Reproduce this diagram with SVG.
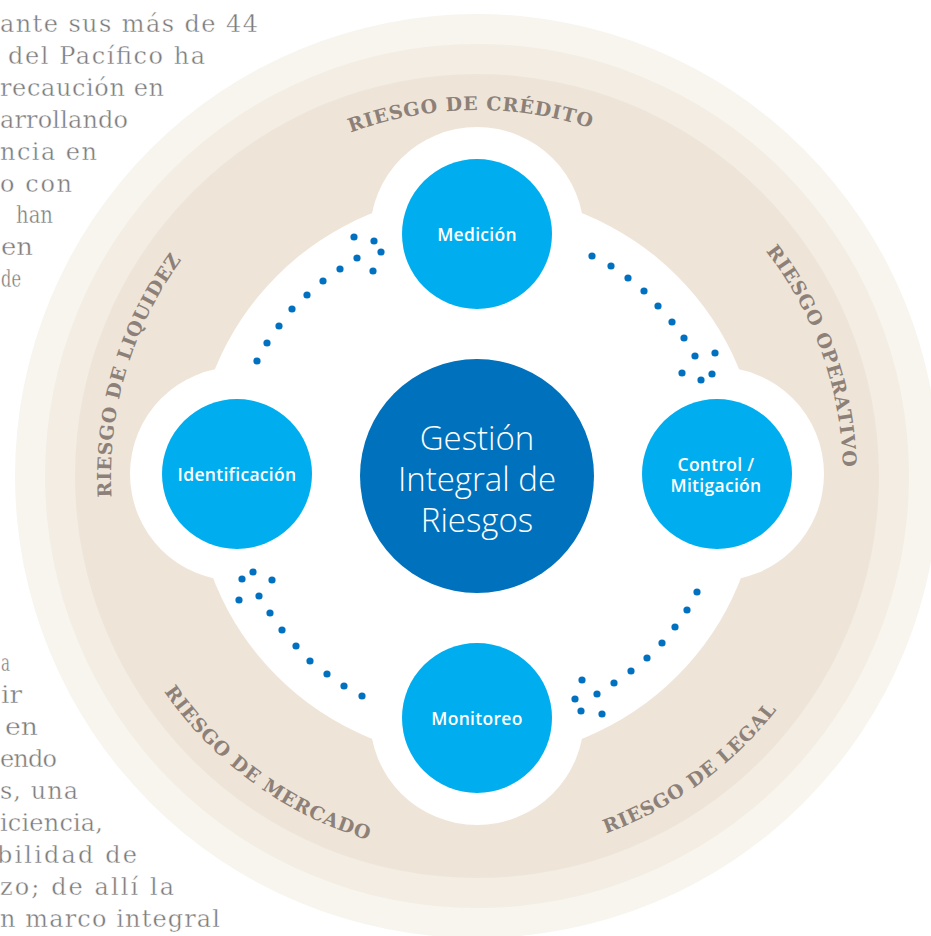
<svg xmlns="http://www.w3.org/2000/svg" width="931" height="936" viewBox="0 0 931 936">
<defs>
<style>
.para{font-family:"DejaVu Serif",serif;font-size:24px;fill:#7a7a7a;stroke:#fff;stroke-width:0.4px}
.risk{font-family:"DejaVu Serif",serif;font-weight:bold;font-size:19px;letter-spacing:0.8px;fill:#8c8078}
.node{fill:#00aeef}
.nlabel{font-family:"Open Sans","Noto Sans",sans-serif;font-weight:600;font-size:17.5px;letter-spacing:0.3px;fill:#fff;text-anchor:middle}
.clabel{font-family:"Open Sans","Noto Sans",sans-serif;font-weight:300;font-size:33px;fill:#fff;text-anchor:middle}
.dot{fill:#0070c0}
</style>
<path id="pCredito" d="M156.9,298.6 A366,366 0 0 1 790.7,287.5"/>
<path id="pOperativo" d="M543.1,116 A366,366 0 0 1 755.7,713.2"/>
<path id="pLiquidez" d="M211.5,728 A366,366 0 0 1 391.6,120.1"/>
<path id="pMercado" d="M99.1,436.3 A380,380 0 0 0 631.5,823.1"/>
<path id="pLegal" d="M322.5,823.1 A380,380 0 0 0 854.9,436.3"/>
</defs>
<rect width="931" height="936" fill="#fff"/>
<g id="paragraph">
<text class="para" x="0" y="32" textLength="258" lengthAdjust="spacing">ante sus más de 44</text>
<text class="para" x="8" y="64" textLength="197" lengthAdjust="spacing">del Pacífico ha</text>
<text class="para" x="0" y="96" textLength="164" lengthAdjust="spacing">recaución en</text>
<text class="para" x="0" y="128" textLength="128" lengthAdjust="spacing">arrollando</text>
<text class="para" x="0" y="160" textLength="97" lengthAdjust="spacing">ncia en</text>
<text class="para" x="0" y="192" textLength="72" lengthAdjust="spacing">o con</text>
<text class="para" x="16" y="223" textLength="37" lengthAdjust="spacingAndGlyphs">han</text>
<text class="para" x="1" y="255" textLength="32" lengthAdjust="spacingAndGlyphs">en</text>
<text class="para" x="1" y="287" textLength="20" lengthAdjust="spacingAndGlyphs">de</text>
<text class="para" x="1" y="671" textLength="9" lengthAdjust="spacingAndGlyphs">a</text>
<text class="para" x="1" y="703" textLength="21" lengthAdjust="spacingAndGlyphs">ir</text>
<text class="para" x="5" y="735" textLength="33" lengthAdjust="spacingAndGlyphs">en</text>
<text class="para" x="0" y="767" textLength="57" lengthAdjust="spacing">endo</text>
<text class="para" x="0" y="799" textLength="78" lengthAdjust="spacing">s, una</text>
<text class="para" x="0" y="831" textLength="103" lengthAdjust="spacing">iciencia,</text>
<text class="para" x="-3" y="863" textLength="140" lengthAdjust="spacing">bilidad de</text>
<text class="para" x="0" y="895" textLength="174" lengthAdjust="spacing">zo; de allí la</text>
<text class="para" x="0" y="927" textLength="220" lengthAdjust="spacing">n marco integral</text>
</g>
<g id="rings">
<circle cx="477" cy="476" r="462" fill="#f8f5ef"/>
<circle cx="477" cy="476" r="432" fill="#f3ede3"/>
<circle cx="477" cy="476" r="402" fill="#eee5d8"/>
<g fill="#fff">
<circle cx="477" cy="476" r="283"/>
<circle cx="477" cy="234" r="107"/>
<circle cx="237" cy="474" r="107"/>
<circle cx="717" cy="474" r="107"/>
<circle cx="477" cy="718" r="107"/>
</g>
</g>
<g id="risk-labels">
<text class="risk"><textPath href="#pCredito" startOffset="50%" text-anchor="middle">RIESGO DE CRÉDITO</textPath></text>
<text class="risk"><textPath href="#pOperativo" startOffset="50%" text-anchor="middle">RIESGO OPERATIVO</textPath></text>
<text class="risk"><textPath href="#pLiquidez" startOffset="50%" text-anchor="middle">RIESGO DE LIQUIDEZ</textPath></text>
<text class="risk"><textPath href="#pMercado" startOffset="50%" text-anchor="middle">RIESGO DE MERCADO</textPath></text>
<text class="risk"><textPath href="#pLegal" startOffset="50%" text-anchor="middle">RIESGO DE LEGAL</textPath></text>
</g>
<g id="connectors">
<g id="arrow-identificacion-medicion">
<circle class="dot" cx="257" cy="361" r="3.6"/><circle class="dot" cx="267" cy="343" r="3.6"/><circle class="dot" cx="279" cy="326" r="3.6"/><circle class="dot" cx="292" cy="309" r="3.6"/><circle class="dot" cx="307" cy="295" r="3.6"/><circle class="dot" cx="323" cy="281" r="3.6"/><circle class="dot" cx="340" cy="269" r="3.6"/><circle class="dot" cx="357" cy="258" r="3.6"/><circle class="dot" cx="373" cy="271" r="3.6"/><circle class="dot" cx="381" cy="252" r="3.6"/><circle class="dot" cx="374" cy="241" r="3.6"/><circle class="dot" cx="354" cy="237" r="3.6"/>
</g>
<g id="arrow-medicion-control">
<circle class="dot" cx="592" cy="256" r="3.6"/><circle class="dot" cx="611" cy="266" r="3.6"/><circle class="dot" cx="628" cy="278" r="3.6"/><circle class="dot" cx="644" cy="291" r="3.6"/><circle class="dot" cx="658" cy="306" r="3.6"/><circle class="dot" cx="672" cy="322" r="3.6"/><circle class="dot" cx="684" cy="338" r="3.6"/><circle class="dot" cx="695" cy="356" r="3.6"/><circle class="dot" cx="715" cy="353" r="3.6"/><circle class="dot" cx="712" cy="374" r="3.6"/><circle class="dot" cx="701" cy="380" r="3.6"/><circle class="dot" cx="682" cy="373" r="3.6"/>
</g>
<g id="arrow-control-monitoreo">
<circle class="dot" cx="697" cy="592" r="3.6"/><circle class="dot" cx="687" cy="610" r="3.6"/><circle class="dot" cx="675" cy="627" r="3.6"/><circle class="dot" cx="662" cy="643" r="3.6"/><circle class="dot" cx="647" cy="658" r="3.6"/><circle class="dot" cx="631" cy="671" r="3.6"/><circle class="dot" cx="614" cy="683" r="3.6"/><circle class="dot" cx="597" cy="694" r="3.6"/><circle class="dot" cx="582" cy="680" r="3.6"/><circle class="dot" cx="575" cy="699" r="3.6"/><circle class="dot" cx="581" cy="711" r="3.6"/><circle class="dot" cx="602" cy="714" r="3.6"/>
</g>
<g id="arrow-monitoreo-identificacion">
<circle class="dot" cx="362" cy="696" r="3.6"/><circle class="dot" cx="344" cy="686" r="3.6"/><circle class="dot" cx="327" cy="674" r="3.6"/><circle class="dot" cx="310" cy="661" r="3.6"/><circle class="dot" cx="296" cy="646" r="3.6"/><circle class="dot" cx="282" cy="630" r="3.6"/><circle class="dot" cx="270" cy="613" r="3.6"/><circle class="dot" cx="259" cy="596" r="3.6"/><circle class="dot" cx="239" cy="600" r="3.6"/><circle class="dot" cx="242" cy="579" r="3.6"/><circle class="dot" cx="253" cy="572" r="3.6"/><circle class="dot" cx="272" cy="580" r="3.6"/>
</g>
</g>
<g id="center">
<circle cx="477" cy="476" r="117" fill="#0071bc"/>
<text class="clabel" x="477" y="450">Gestión</text>
<text class="clabel" x="477" y="491">Integral de</text>
<text class="clabel" x="477" y="532">Riesgos</text>
</g>
<g id="medicion">
<circle class="node" cx="477" cy="234" r="75"/>
<text class="nlabel" x="477" y="241">Medición</text>
</g>
<g id="identificacion">
<circle class="node" cx="237" cy="474" r="75"/>
<text class="nlabel" x="237" y="481">Identificación</text>
</g>
<g id="control">
<circle class="node" cx="717" cy="474" r="75"/>
<text class="nlabel" x="716" y="471">Control /</text>
<text class="nlabel" x="716" y="492">Mitigación</text>
</g>
<g id="monitoreo">
<circle class="node" cx="477" cy="718" r="75"/>
<text class="nlabel" x="477" y="725">Monitoreo</text>
</g>
</svg>
